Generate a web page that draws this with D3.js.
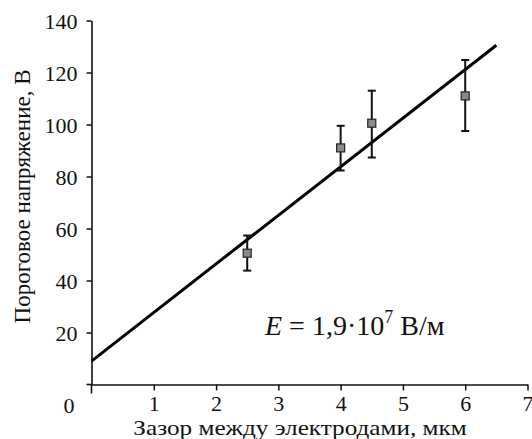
<!DOCTYPE html>
<html>
<head>
<meta charset="utf-8">
<script src="https://cdn.jsdelivr.net/npm/d3@7"></script>
<style>
  body { margin: 0; background: #fff; }
</style>
</head>
<body>
<script>
var width = 532,
    height = 439;

// measured gap (µm) and threshold voltage (V) with error bars
var gaps = [2.5, 4, 4.5, 6];
var voltages = [50.5, 91, 100.5, 111];
var errLow = [43.8, 82.3, 87.3, 97.5];
var errHigh = [57.3, 99.5, 113, 124.8];

// fitted line end points
var fitX = [0, 6.5];
var fitY = [9, 130.5];

var xTicks = [1, 2, 3, 4, 5, 6, 7];
var yTicks = [20, 40, 60, 80, 100, 120, 140];

var serif = "'Liberation Serif', 'Times New Roman', 'DejaVu Serif', serif";

var x = d3.scaleLinear().domain([0, 7]).range([91.5, 527.5]);
var y = d3.scaleLinear().domain([0, 140]).range([384.5, 20.5]);

var svg = d3.select("body").append("svg")
    .attr("width", width)
    .attr("height", height)
    .style("font-family", serif);

// axes
var xAxis = svg.append("g")
    .attr("transform", "translate(0," + y(0) + ")")
    .call(d3.axisBottom(x).tickValues(xTicks).tickFormat(d3.format("d"))
      .tickSize(6).tickSizeOuter(0).tickPadding(5));

var yAxis = svg.append("g")
    .attr("transform", "translate(" + x(0) + ",0)")
    .call(d3.axisLeft(y).tickValues(yTicks).tickFormat(d3.format("d"))
      .tickSize(5).tickSizeOuter(0).tickPadding(9));

[xAxis, yAxis].forEach(function(a) {
  a.attr("font-family", serif).attr("font-size", 22);
  a.select(".domain").attr("stroke", "#111").attr("stroke-width", 1.6);
  a.selectAll(".tick line").attr("stroke", "#111").attr("stroke-width", 1.5);
  a.selectAll(".tick text").attr("fill", "#111");
});
yAxis.selectAll(".tick text").attr("dy", "0.35em");

// y axis extends below the origin, x axis extends left of it
svg.append("line")
    .attr("x1", x(0)).attr("x2", x(0))
    .attr("y1", y(0)).attr("y2", y(0) + 9)
    .attr("stroke", "#111").attr("stroke-width", 1.6);
svg.append("line")
    .attr("x1", x(0) - 5).attr("x2", x(0))
    .attr("y1", y(0)).attr("y2", y(0))
    .attr("stroke", "#111").attr("stroke-width", 1.6);

svg.append("text")
    .attr("x", 69).attr("y", 413)
    .attr("text-anchor", "middle")
    .attr("font-size", 22)
    .attr("fill", "#111")
    .text("0");

// fitted line
svg.append("line")
    .attr("x1", x(fitX[0])).attr("y1", y(fitY[0]))
    .attr("x2", x(fitX[1])).attr("y2", y(fitY[1]))
    .attr("stroke", "#000")
    .attr("stroke-width", 3);

// error bars
var pts = svg.selectAll("g.pt")
    .data(gaps.map(function(g, i) { return i; }))
    .enter().append("g")
    .attr("class", "pt");

pts.append("line")
    .attr("x1", function(i) { return x(gaps[i]); })
    .attr("x2", function(i) { return x(gaps[i]); })
    .attr("y1", function(i) { return y(errLow[i]); })
    .attr("y2", function(i) { return y(errHigh[i]); })
    .attr("stroke", "#111").attr("stroke-width", 2);

[errLow, errHigh].forEach(function(arr) {
  pts.append("line")
      .attr("x1", function(i) { return x(gaps[i]) - 4; })
      .attr("x2", function(i) { return x(gaps[i]) + 4; })
      .attr("y1", function(i) { return y(arr[i]); })
      .attr("y2", function(i) { return y(arr[i]); })
      .attr("stroke", "#111").attr("stroke-width", 2);
});

pts.append("rect")
    .attr("x", function(i) { return x(gaps[i]) - 4; })
    .attr("y", function(i) { return y(voltages[i]) - 4; })
    .attr("width", 8)
    .attr("height", 8)
    .attr("fill", "#8a8a8a")
    .attr("stroke", "#222")
    .attr("stroke-width", 1.2);

// annotation
var ann = svg.append("text")
    .attr("x", 265).attr("y", 335)
    .attr("font-size", 28)
    .attr("fill", "#111");
ann.append("tspan").attr("font-style", "italic").text("E");
ann.append("tspan").text(" = 1,9·10");
ann.append("tspan").attr("dy", -12).attr("font-size", 18).text("7");
ann.append("tspan").attr("dy", 12).text(" В/м");

// axis titles
svg.append("text")
    .attr("transform", "translate(300,435) scale(1.2,1)")
    .attr("text-anchor", "middle")
    .attr("font-size", 21)
    .attr("fill", "#111")
    .text("Зазор между электродами, мкм");

svg.append("text")
    .attr("transform", "translate(30,196.5) rotate(-90)")
    .attr("text-anchor", "middle")
    .attr("font-size", 23)
    .attr("fill", "#111")
    .text("Пороговое напряжение, В");
</script>
</body>
</html>
